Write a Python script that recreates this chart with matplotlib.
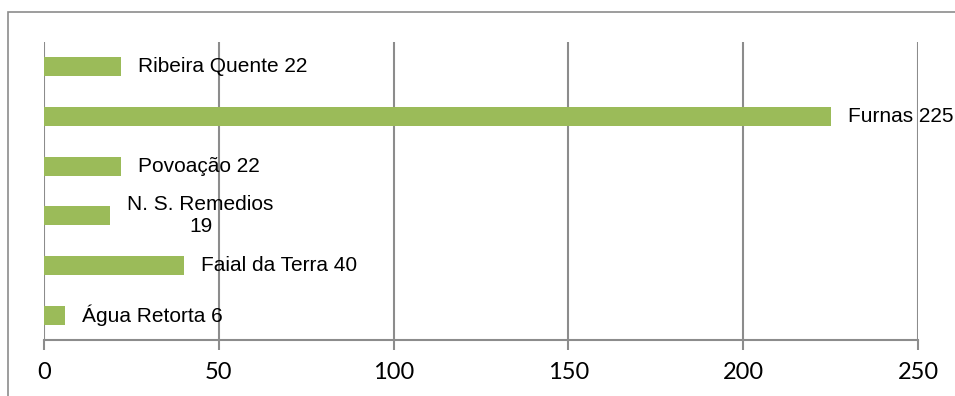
import matplotlib
matplotlib.use("Agg")
import matplotlib.pyplot as plt
from matplotlib.patches import Rectangle

# Visitor counts by locality (bottom to top)
localities = ["Água Retorta", "Faial da Terra", "N. S. Remedios", "Povoação", "Furnas", "Ribeira Quente"]
counts = [6, 40, 19, 22, 225, 22]
wrapped = ["N. S. Remedios"]
x_ticks = [0, 50, 100, 150, 200, 250]

bar_color = "#9BBB59"
grid_color = "#8C8C8C"

fig = plt.figure(figsize=(9.55, 3.96), dpi=100)
ax = fig.add_axes([44 / 955, 1 - 340 / 396, 874 / 955, 298 / 396])

ypos = list(range(len(localities)))
ax.barh(ypos, counts, height=0.38, color=bar_color, zorder=3)

for y, name, val in zip(ypos, localities, counts):
    sep = "\n" if name in wrapped else " "
    ax.annotate(f"{name}{sep}{val}", xy=(val, y), xytext=(17, 0),
                textcoords="offset pixels", ha="left", va="center",
                multialignment="center", fontsize=15, linespacing=1.2,
                family="Liberation Sans", color="black", zorder=4)

ax.set_xlim(0, 250)
ax.set_ylim(-0.5, len(localities) - 0.5)
ax.set_xticks(x_ticks)
ax.set_xticklabels([str(t) for t in x_ticks], family="Lato", fontsize=17)
ax.set_yticks([])

ax.grid(axis="x", color=grid_color, linewidth=1.5, zorder=0)
for side in ["top", "right", "left"]:
    ax.spines[side].set_visible(False)
ax.spines["bottom"].set_color(grid_color)
ax.spines["bottom"].set_linewidth(1.5)
ax.tick_params(axis="x", direction="out", length=7, width=1.5,
               color=grid_color, pad=9)

# chart-area frame
frame = Rectangle((8 / 955, -0.1), 1.0, 1.1 - 12 / 396,
                  transform=fig.transFigure, fill=False,
                  edgecolor="#8C8C8C", linewidth=1.2, clip_on=False)
fig.patches.append(frame)

fig.savefig("out.png", dpi=100)
